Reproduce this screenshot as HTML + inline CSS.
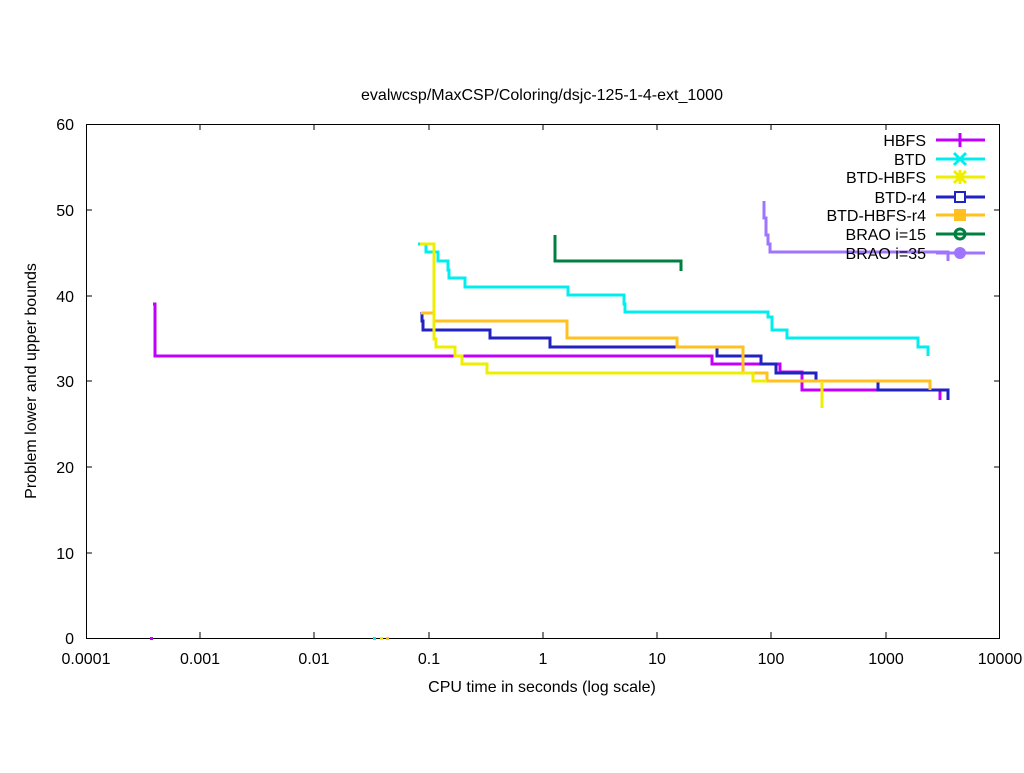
<!DOCTYPE html>
<html><head><style>body{margin:0;background:#fff}svg text{font-family:"Liberation Sans",sans-serif;font-size:16px}</style></head><body>
<svg width="1024" height="768" xmlns="http://www.w3.org/2000/svg">
<rect width="1024" height="768" fill="#fff"/>
<text x="542" y="100" text-anchor="middle">evalwcsp/MaxCSP/Coloring/dsjc-125-1-4-ext_1000</text>
<g stroke="#000" stroke-width="1" fill="none">
<rect x="86.5" y="124.5" width="913" height="514"/>
<path d="M86 553h6M1000 553h-6M86 467h6M1000 467h-6M86 381h6M1000 381h-6M86 296h6M1000 296h-6M86 210h6M1000 210h-6"/>
<path d="M200 638v-6M200 124v6M314 638v-6M314 124v6M429 638v-6M429 124v6M543 638v-6M543 124v6M657 638v-6M657 124v6M771 638v-6M771 124v6M886 638v-6M886 124v6"/>
</g>
<g text-anchor="end">
<text x="74" y="644">0</text><text x="74" y="559">10</text><text x="74" y="473">20</text><text x="74" y="387">30</text><text x="74" y="302">40</text><text x="74" y="216">50</text><text x="74" y="130">60</text>
</g>
<g text-anchor="middle">
<text x="86" y="664">0.0001</text><text x="200" y="664">0.001</text><text x="314" y="664">0.01</text><text x="429" y="664">0.1</text><text x="543" y="664">1</text><text x="657" y="664">10</text><text x="771" y="664">100</text><text x="886" y="664">1000</text><text x="1000" y="664">10000</text>
<text x="542" y="692">CPU time in seconds (log scale)</text>
</g>
<text transform="translate(36,381) rotate(-90)" text-anchor="middle">Problem lower and upper bounds</text>
<g fill="none" stroke-width="3">
<path stroke="#9f75ff" d="M764 201V218H766V235H768V244H770V252H948V261"/>
<path stroke="#008040" d="M555 235V261H681V271"/>
<path stroke="#00eeee" d="M418 244H426V252H438V261H448V270H449V278H465V287H568V295H624V304H625V312H768V317H772V330H787V338H918V347H928V356"/>
<path stroke="#bf00ff" d="M153 304H155V356H712V364H780V372H802V390H940V400"/>
<path stroke="#2222c0" d="M422 312V321H423V330H490V338H550V347H717V356H761V364H776V373H816V381M878 381V390H948V400"/>
<path stroke="#ffc020" d="M421 313H434V321H567V338H677V347H743V373H767V381H930V390"/>
<path stroke="#eeee00" d="M420 244H434V339H436V347H455V356H462V364H487V373H753V381H767M822 381V408"/>
</g>
<g text-anchor="end">
<text x="926" y="146">HBFS</text><text x="926" y="165">BTD</text><text x="926" y="183">BTD-HBFS</text><text x="926" y="203">BTD-r4</text><text x="926" y="221">BTD-HBFS-r4</text><text x="926" y="240">BRAO i=15</text><text x="926" y="259">BRAO i=35</text>
</g>
<g stroke-width="3" fill="none">
<path stroke="#bf00ff" d="M936 140H985M960 133V147"/>
<path stroke="#00eeee" d="M936 159H985M954 153l12 12M966 153l-12 12"/>
<path stroke="#eeee00" d="M936 177H985M954 171l12 12M966 171l-12 12M960 170v14"/>
<path stroke="#2222c0" d="M936 197H985"/><rect x="955" y="192" width="10" height="10" stroke="#2222c0" stroke-width="2" fill="#fff"/>
<path stroke="#ffc020" d="M936 215H985"/><rect x="954" y="209" width="12" height="12" fill="#ffc020" stroke="none"/>
<path stroke="#008040" d="M936 234H985"/><circle cx="960" cy="234" r="5" stroke="#008040" stroke-width="3"/>
<path stroke="#9f75ff" d="M936 253H985"/><circle cx="960" cy="253" r="6" fill="#9f75ff" stroke="none"/>
</g>
<rect x="150" y="637" width="3" height="3" fill="#bf00ff"/>
<rect x="373" y="637" width="3" height="3" fill="#00eeee"/>
<rect x="380" y="637" width="3" height="3" fill="#eeee00"/>
<rect x="386" y="637" width="3" height="3" fill="#ffc020"/>
</svg>
</body></html>
